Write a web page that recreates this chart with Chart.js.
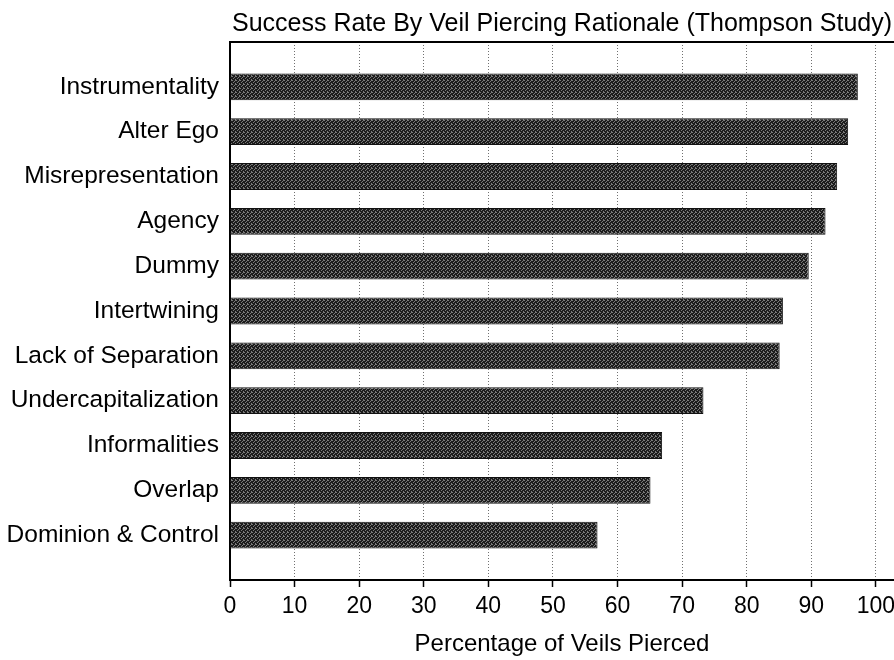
<!DOCTYPE html>
<html>
<head>
<meta charset="utf-8">
<script src="https://cdn.jsdelivr.net/npm/chart.js@4.4.1/dist/chart.umd.min.js"></script>
<style>
  html, body { margin: 0; padding: 0; background: #fff; }
  #wrap { width: 894px; height: 660px; }
</style>
</head>
<body>
<div id="wrap"><canvas id="veilChart" width="894" height="660"></canvas></div>
<script>
// data
const rationales = [
  "Instrumentality", "Alter Ego", "Misrepresentation", "Agency", "Dummy",
  "Intertwining", "Lack of Separation", "Undercapitalization", "Informalities",
  "Overlap", "Dominion & Control"
];
const pctPierced = [97.2, 95.7, 94.0, 92.2, 89.6, 85.6, 85.1, 73.3, 66.9, 65.1, 56.9];
const xTicks = [0, 10, 20, 30, 40, 50, 60, 70, 80, 90, 100];

const FONT = "'Liberation Sans', Arial, sans-serif";

// dithered dark fill like the scanned bars
function makeDither() {
  const c = document.createElement("canvas");
  c.width = 4; c.height = 4;
  const g = c.getContext("2d");
  g.fillStyle = "#1c1c1c";
  g.fillRect(0, 0, 4, 4);
  g.fillStyle = "#7a7a7a";
  [[0, 0], [2, 1], [1, 2], [3, 3], [3, 0]].forEach(p => g.fillRect(p[0], p[1], 1, 1));
  return g.createPattern(c, "repeat");
}

// empty slot above and below, like the original plot
const labels = [""].concat(rationales, [""]);
const values = [null].concat(pctPierced, [null]);

const topBorder = {
  id: "topBorder",
  afterDraw(chart) {
    const a = chart.chartArea, ctx = chart.ctx;
    ctx.save();
    ctx.strokeStyle = "#000";
    ctx.lineWidth = 2;
    ctx.beginPath();
    ctx.moveTo(a.left, a.top);
    ctx.lineTo(chart.width, a.top);
    ctx.stroke();
    ctx.restore();
  }
};

const ctx = document.getElementById("veilChart").getContext("2d");
const veilChart = new Chart(ctx, {
  type: "bar",
  data: {
    labels: labels,
    datasets: [{
      data: values,
      backgroundColor: makeDither(),
      borderColor: "#111",
      borderWidth: 1,
      barPercentage: 0.6,
      categoryPercentage: 1
    }]
  },
  options: {
    indexAxis: "y",
    responsive: false,
    devicePixelRatio: 1,
    animation: false,
    layout: { padding: 0 },
    plugins: {
      legend: { display: false },
      tooltip: { enabled: false },
      title: {
        display: true,
        text: "Success Rate By Veil Piercing Rationale (Thompson Study)",
        fullSize: false,
        color: "#000",
        font: { family: FONT, size: 25, weight: "normal" },
        padding: { top: 9, bottom: 3 }
      }
    },
    scales: {
      x: {
        min: 0, max: 102.8,
        afterBuildTicks: (s) => { s.ticks = xTicks.map(v => ({ value: v })); },
        afterFit: (s) => { s.height = 80; s.paddingLeft = 0; s.paddingRight = 0; },
        ticks: { color: "#000", font: { family: FONT, size: 23 }, padding: 6, maxRotation: 0, autoSkip: false },
        grid: { color: "#707070", lineWidth: 1, tickLength: 7, tickColor: "#000", tickWidth: 1.5, tickBorderDash: [] },
        border: { display: true, color: "#000", width: 2, dash: [1, 2] },
        title: {
          display: true, text: "Percentage of Veils Pierced", color: "#000",
          font: { family: FONT, size: 24 }, padding: { top: 0, bottom: 1 }
        }
      },
      y: {
        offset: false,
        afterFit: (s) => { s.width = 230; s.paddingTop = 0; s.paddingBottom = 0; },
        ticks: { color: "#000", font: { family: FONT, size: 24.5 }, padding: 11, autoSkip: false },
        grid: { display: false, drawTicks: false },
        border: { display: true, color: "#000", width: 2 }
      }
    }
  },
  plugins: [topBorder]
});
</script>
</body>
</html>
